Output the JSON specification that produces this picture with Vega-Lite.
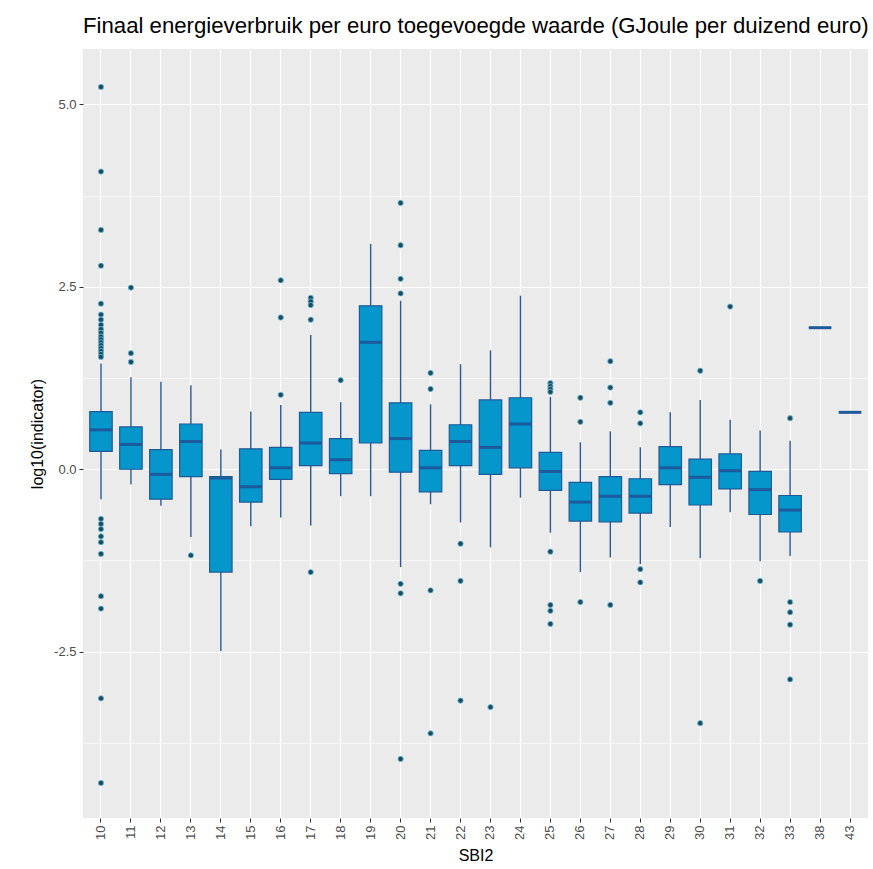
{
  "$schema": "https://vega.github.io/schema/vega-lite/v6.json",
  "width": 785,
  "height": 769,
  "autosize": {"type": "none"},
  "padding": {"left": 83, "top": 49, "right": 5, "bottom": 51},
  "background": "white",
  "config": {
    "font": "Liberation Sans",
    "view": {"fill": "#EBEBEB", "stroke": null}
  },
  "title": {
    "text": "Finaal energieverbruik per euro toegevoegde waarde (GJoule per duizend euro)",
    "anchor": "start",
    "frame": "group",
    "fontSize": 22.2,
    "fontWeight": "normal",
    "color": "#000000",
    "offset": 12
  },
  "datasets": {
    "boxes": [
      {"SBI2": "10", "lower": -0.41, "q1": 0.245, "median": 0.54, "q3": 0.79, "upper": 1.45},
      {"SBI2": "11", "lower": -0.21, "q1": 0.0, "median": 0.34, "q3": 0.58, "upper": 1.26},
      {"SBI2": "12", "lower": -0.5, "q1": -0.41, "median": -0.07, "q3": 0.27, "upper": 1.2},
      {"SBI2": "13", "lower": -0.93, "q1": -0.1, "median": 0.38, "q3": 0.62, "upper": 1.15},
      {"SBI2": "14", "lower": -2.49, "q1": -1.41, "median": -0.12, "q3": -0.1, "upper": 0.27},
      {"SBI2": "15", "lower": -0.78, "q1": -0.45, "median": -0.24, "q3": 0.28, "upper": 0.79},
      {"SBI2": "16", "lower": -0.66, "q1": -0.14, "median": 0.02, "q3": 0.3, "upper": 0.88},
      {"SBI2": "17", "lower": -0.77, "q1": 0.05, "median": 0.36, "q3": 0.78, "upper": 1.84},
      {"SBI2": "18", "lower": -0.37, "q1": -0.06, "median": 0.13, "q3": 0.42, "upper": 0.92},
      {"SBI2": "19", "lower": -0.37, "q1": 0.36, "median": 1.74, "q3": 2.24, "upper": 3.09},
      {"SBI2": "20", "lower": -1.34, "q1": -0.04, "median": 0.42, "q3": 0.91, "upper": 2.31},
      {"SBI2": "21", "lower": -0.48, "q1": -0.31, "median": 0.02, "q3": 0.26, "upper": 0.89},
      {"SBI2": "22", "lower": -0.73, "q1": 0.05, "median": 0.38, "q3": 0.61, "upper": 1.44},
      {"SBI2": "23", "lower": -1.07, "q1": -0.07, "median": 0.3, "q3": 0.95, "upper": 1.63},
      {"SBI2": "24", "lower": -0.39, "q1": 0.02, "median": 0.62, "q3": 0.98, "upper": 2.38},
      {"SBI2": "25", "lower": -0.87, "q1": -0.29, "median": -0.03, "q3": 0.23, "upper": 0.99},
      {"SBI2": "26", "lower": -1.41, "q1": -0.71, "median": -0.45, "q3": -0.18, "upper": 0.37},
      {"SBI2": "27", "lower": -1.21, "q1": -0.72, "median": -0.37, "q3": -0.1, "upper": 0.52},
      {"SBI2": "28", "lower": -1.3, "q1": -0.6, "median": -0.37, "q3": -0.13, "upper": 0.3},
      {"SBI2": "29", "lower": -0.79, "q1": -0.21, "median": 0.02, "q3": 0.31, "upper": 0.78},
      {"SBI2": "30", "lower": -1.22, "q1": -0.49, "median": -0.11, "q3": 0.14, "upper": 0.95},
      {"SBI2": "31", "lower": -0.59, "q1": -0.27, "median": -0.02, "q3": 0.21, "upper": 0.68},
      {"SBI2": "32", "lower": -1.26, "q1": -0.62, "median": -0.28, "q3": -0.03, "upper": 0.53},
      {"SBI2": "33", "lower": -1.19, "q1": -0.86, "median": -0.56, "q3": -0.36, "upper": 0.39},
      {"SBI2": "38", "lower": 1.94, "q1": 1.94, "median": 1.94, "q3": 1.94, "upper": 1.94},
      {"SBI2": "43", "lower": 0.78, "q1": 0.78, "median": 0.78, "q3": 0.78, "upper": 0.78}
    ],
    "outliers": [
      {"SBI2": "10", "value": 5.24}, {"SBI2": "10", "value": 4.08}, {"SBI2": "10", "value": 3.28},
      {"SBI2": "10", "value": 2.79}, {"SBI2": "10", "value": 2.27}, {"SBI2": "10", "value": 2.12},
      {"SBI2": "10", "value": 2.05}, {"SBI2": "10", "value": 1.98}, {"SBI2": "10", "value": 1.92},
      {"SBI2": "10", "value": 1.87}, {"SBI2": "10", "value": 1.82}, {"SBI2": "10", "value": 1.78},
      {"SBI2": "10", "value": 1.74}, {"SBI2": "10", "value": 1.7}, {"SBI2": "10", "value": 1.66},
      {"SBI2": "10", "value": 1.62}, {"SBI2": "10", "value": 1.58}, {"SBI2": "10", "value": 1.54},
      {"SBI2": "10", "value": -0.68}, {"SBI2": "10", "value": -0.75}, {"SBI2": "10", "value": -0.82},
      {"SBI2": "10", "value": -0.92}, {"SBI2": "10", "value": -1.0}, {"SBI2": "10", "value": -1.16},
      {"SBI2": "10", "value": -1.74}, {"SBI2": "10", "value": -1.91}, {"SBI2": "10", "value": -3.14},
      {"SBI2": "10", "value": -4.3},
      {"SBI2": "11", "value": 2.49}, {"SBI2": "11", "value": 1.59}, {"SBI2": "11", "value": 1.47},
      {"SBI2": "13", "value": -1.18},
      {"SBI2": "16", "value": 2.59}, {"SBI2": "16", "value": 2.08}, {"SBI2": "16", "value": 1.02},
      {"SBI2": "17", "value": 2.35}, {"SBI2": "17", "value": 2.3}, {"SBI2": "17", "value": 2.25},
      {"SBI2": "17", "value": 2.05}, {"SBI2": "17", "value": -1.41},
      {"SBI2": "18", "value": 1.22},
      {"SBI2": "20", "value": 3.65}, {"SBI2": "20", "value": 3.07}, {"SBI2": "20", "value": 2.61},
      {"SBI2": "20", "value": 2.41}, {"SBI2": "20", "value": -1.57}, {"SBI2": "20", "value": -1.7},
      {"SBI2": "20", "value": -3.97},
      {"SBI2": "21", "value": 1.32}, {"SBI2": "21", "value": 1.1}, {"SBI2": "21", "value": -1.66},
      {"SBI2": "21", "value": -3.62},
      {"SBI2": "22", "value": -1.02}, {"SBI2": "22", "value": -1.53}, {"SBI2": "22", "value": -3.17},
      {"SBI2": "23", "value": -3.26},
      {"SBI2": "25", "value": 1.18}, {"SBI2": "25", "value": 1.14}, {"SBI2": "25", "value": 1.1},
      {"SBI2": "25", "value": 1.06}, {"SBI2": "25", "value": -1.13}, {"SBI2": "25", "value": -1.86},
      {"SBI2": "25", "value": -1.94}, {"SBI2": "25", "value": -2.12},
      {"SBI2": "26", "value": 0.98}, {"SBI2": "26", "value": 0.65}, {"SBI2": "26", "value": -1.82},
      {"SBI2": "27", "value": 1.48}, {"SBI2": "27", "value": 1.12}, {"SBI2": "27", "value": 0.91},
      {"SBI2": "27", "value": -1.86},
      {"SBI2": "28", "value": 0.78}, {"SBI2": "28", "value": 0.63}, {"SBI2": "28", "value": -1.37},
      {"SBI2": "28", "value": -1.55},
      {"SBI2": "30", "value": 1.35}, {"SBI2": "30", "value": -3.48},
      {"SBI2": "31", "value": 2.23},
      {"SBI2": "32", "value": -1.53},
      {"SBI2": "33", "value": 0.7}, {"SBI2": "33", "value": -1.82}, {"SBI2": "33", "value": -1.96},
      {"SBI2": "33", "value": -2.13}, {"SBI2": "33", "value": -2.88}
    ]
  },
  "encoding": {
    "x": {
      "field": "SBI2",
      "type": "ordinal",
      "scale": {"paddingInner": 0, "paddingOuter": 0.1},
      "axis": {
        "title": "SBI2",
        "titleFontSize": 16,
        "titleFontWeight": "normal",
        "titleColor": "#000000",
        "titlePadding": 8,
        "labelAngle": -90,
        "labelAlign": "right",
        "labelBaseline": "middle",
        "labelFontSize": 13,
        "labelColor": "#4D4D4D",
        "labelPadding": 3,
        "domain": false,
        "ticks": true,
        "tickSize": 4,
        "tickColor": "#333333",
        "bandPosition": 0.5,
        "grid": true,
        "gridColor": "#FFFFFF",
        "gridWidth": 1.2
      }
    }
  },
  "layer": [
    {
      "data": {"name": "boxes"},
      "mark": {"type": "rule", "color": "#2A5A90", "strokeWidth": 1.4},
      "encoding": {
        "y": {
          "field": "lower",
          "type": "quantitative",
          "scale": {"domain": [-4.78, 5.76], "nice": false, "zero": false},
          "axis": {
            "title": "log10(indicator)",
            "titleFontSize": 16,
            "titleFontWeight": "normal",
            "titleColor": "#000000",
            "titlePadding": 8,
            "values": [-2.5, 0, 2.5, 5],
            "labelExpr": "replace(format(datum.value, '.1f'), '\u2212', '-')",
            "labelFontSize": 13,
            "labelColor": "#4D4D4D",
            "labelPadding": 3,
            "domain": false,
            "ticks": true,
            "tickSize": 4,
            "tickColor": "#333333",
            "grid": true,
            "gridColor": "#FFFFFF",
            "gridWidth": 1.2
          }
        },
        "y2": {"field": "upper"}
      }
    },
    {
      "data": {"name": "boxes"},
      "mark": {"type": "bar", "width": {"band": 0.75}, "fill": "#0596CC", "stroke": "#1F5A96", "strokeWidth": 1.2},
      "encoding": {
        "y": {"field": "q1", "type": "quantitative", "axis": null},
        "y2": {"field": "q3"}
      }
    },
    {
      "data": {"name": "boxes"},
      "mark": {"type": "tick", "size": 22.5, "thickness": 3, "color": "#1C5A9C", "opacity": 1},
      "encoding": {
        "y": {"field": "median", "type": "quantitative", "axis": null}
      }
    },
    {
      "data": {"name": "outliers"},
      "mark": {"type": "point", "filled": true, "size": 28, "fill": "#1F4A5E", "stroke": "#5FC2DE", "strokeWidth": 0.8, "opacity": 1},
      "encoding": {
        "y": {
          "field": "value",
          "type": "quantitative",
          "axis": {
            "orient": "left",
            "title": null,
            "values": [-3.75, -1.25, 1.25, 3.75],
            "labels": false,
            "ticks": false,
            "domain": false,
            "grid": true,
            "gridColor": "#FFFFFF",
            "gridWidth": 0.6
          }
        }
      }
    }
  ],
  "resolve": {"axis": {"y": "independent"}}
}
